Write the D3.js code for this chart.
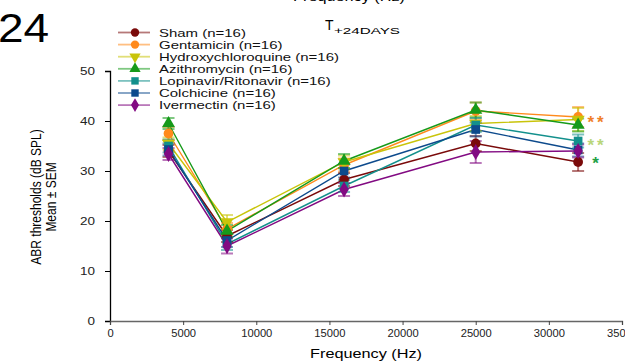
<!DOCTYPE html>
<html><head><meta charset="utf-8">
<script src="https://cdn.jsdelivr.net/npm/d3@7"></script>
<style>body{margin:0;background:#fff}svg{display:block;font-family:Arial,"Liberation Sans",sans-serif}</style>
</head><body><svg id="c" width="625" height="363"></svg>
<script>
const frequencies = [4000, 8000, 16000, 25000, 32000];
const seriesNames = ["Sham (n=16)","Gentamicin (n=16)","Hydroxychloroquine (n=16)","Azithromycin (n=16)","Lopinavir/Ritonavir (n=16)","Colchicine (n=16)","Ivermectin (n=16)"];
const shamValues = [34.0, 17.0, 28.3, 35.5, 31.8];
const gentamicinValues = [37.5, 18.4, 31.2, 42.0, 40.8];
const hydroxyValues = [35.5, 19.8, 31.8, 39.5, 40.3];
const azithroValues = [39.5, 18.0, 32.0, 42.2, 39.2];
const lopinavirValues = [35.0, 15.4, 27.0, 39.2, 36.0];
const colchicineValues = [34.3, 16.1, 30.0, 38.3, 34.2];
const ivermectinValues = [33.4, 15.0, 26.3, 33.8, 34.0];
const shamSem = [1.2, 1.2, 1.3, 1.5, 1.8];
const gentamicinSem = [1.3, 1.2, 1.3, 1.7, 2.0];
const hydroxySem = [1.2, 1.4, 1.3, 1.5, 2.3];
const azithroSem = [1.1, 1.2, 1.4, 1.5, 1.3];
const lopinavirSem = [1.3, 1.2, 1.2, 1.4, 1.3];
const colchicineSem = [1.2, 1.3, 1.3, 1.4, 1.3];
const ivermectinSem = [1.2, 1.5, 1.3, 2.2, 1.3];
const xTicks = [0, 5000, 10000, 15000, 20000, 25000, 30000, 35000];
const yTicks = [0, 10, 20, 30, 40, 50];
const significanceMarks = ["**", "**", "*"];
const significanceLevels = [40.2, 35.7, 32.0];
const significanceColors = ["#f0802a", "#b9d67a", "#22a045"];

const colors = ["#7a0a0a","#ff8a1c","#c9c40a","#169a1a","#13908c","#0d4a8c","#820a82"];
const shapes = [d3.symbolCircle, d3.symbolCircle, "down", d3.symbolTriangle, d3.symbolSquare, d3.symbolSquare, d3.symbolDiamond];
const allValues = [shamValues,gentamicinValues,hydroxyValues,azithroValues,lopinavirValues,colchicineValues,ivermectinValues];
const allSem = [shamSem,gentamicinSem,hydroxySem,azithroSem,lopinavirSem,colchicineSem,ivermectinSem];
const series = seriesNames.map((n,i)=>({name:n,color:colors[i],shape:shapes[i],
  pts:frequencies.map((f,j)=>({f,v:allValues[i][j],e:allSem[i][j]}))}));

const svg = d3.select("#c");
const x = d3.scaleLinear().domain([0,35000]).range([110,622]);
const y = d3.scaleLinear().domain([0,50]).range([321,71]);

function sym(shape, size){
  return d3.symbol(shape==="down"?d3.symbolTriangle:shape, size)();
}
function addMarker(g, s, cx, cy, size){
  g.append("path").attr("d", sym(s.shape,size))
   .attr("transform", `translate(${cx},${cy})` + (s.shape==="down"?" rotate(180)":""))
   .attr("fill", s.color);
}
function stretchedText(px, py, sx, size, str, anchor){
  return svg.append("text").attr("transform",`translate(${px},${py}) scale(${sx},1)`)
    .attr("font-size",size).attr("text-anchor",anchor||"start").text(str);
}

// top cut-off text from panel above
stretchedText(349, 1, 1.25, 13, "Frequency (Hz)", "middle");
// panel label
stretchedText(-2, 42, 1.15, 40, "24");
// time title
svg.append("text").attr("x",325).attr("y",29.5).attr("font-size",14).text("T");
svg.append("text").attr("x",334).attr("y",33.5).attr("font-size",9)
  .attr("textLength",66).attr("lengthAdjust","spacingAndGlyphs").text("+24DAYS");

// axes
const yAxis = svg.append("g").attr("transform","translate(110,0)")
  .call(d3.axisLeft(y).tickValues(yTicks).tickSize(5).tickPadding(4));
yAxis.selectAll("text").attr("font-size",10).attr("fill","#222")
  .attr("transform","translate(-15,0) scale(1.35,1)").attr("x",0);
yAxis.select(".domain").attr("stroke","#000").attr("stroke-width",1.3);
yAxis.selectAll(".tick line").attr("stroke","#000");

const xAxis = svg.append("g").attr("transform","translate(0,321)")
  .call(d3.axisBottom(x).tickValues(xTicks).tickFormat(d3.format("d")).tickSize(4).tickPadding(5));
xAxis.selectAll("text").attr("font-size",10).attr("fill","#222").attr("transform","scale(1.12,1)");
xAxis.select(".domain").attr("stroke","#666").attr("stroke-width",1.3);
xAxis.selectAll(".tick line").attr("stroke","#444");

stretchedText(366, 358, 1.25, 13, "Frequency (Hz)", "middle");
const yl = svg.append("text").attr("transform","translate(41,197) scale(1.25,1) rotate(-90)").attr("text-anchor","middle").attr("font-size",12);
yl.append("tspan").attr("x",0).attr("dy",0).text("ABR thresholds (dB SPL)");
yl.append("tspan").attr("x",0).attr("dy",12).text("Mean ± SEM");

// lines, error bars, markers
const line = d3.line().x(d=>x(d.f)).y(d=>y(d.v));
const plot = svg.append("g");
series.forEach(s=>{
  plot.append("path").datum(s.pts).attr("d",line).attr("fill","none").attr("stroke",s.color).attr("stroke-width",1.4);
});
series.forEach(s=>{
  const g = plot.append("g").attr("stroke",s.color).attr("stroke-opacity",0.55).attr("stroke-width",2);
  s.pts.forEach(p=>{
    const cx = x(p.f);
    g.append("line").attr("x1",cx).attr("x2",cx).attr("y1",y(p.v-p.e)).attr("y2",y(p.v+p.e));
    g.append("line").attr("x1",cx-6).attr("x2",cx+6).attr("y1",y(p.v+p.e)).attr("y2",y(p.v+p.e));
    g.append("line").attr("x1",cx-6).attr("x2",cx+6).attr("y1",y(p.v-p.e)).attr("y2",y(p.v-p.e));
  });
});
series.forEach(s=>{
  const g = plot.append("g");
  s.pts.forEach(p=>addMarker(g, s, x(p.f), y(p.v), 75));
});

// significance stars
significanceMarks.forEach((m,i)=>{
  svg.append("text").attr("x",597).attr("y",y(significanceLevels[i])+8).attr("text-anchor","middle")
    .attr("font-size",17).attr("font-weight","bold").attr("letter-spacing",3)
    .attr("fill",significanceColors[i]).text(m);
});

// legend
const lg = svg.append("g");
series.forEach((s,i)=>{
  const ly = 32.5 + i*12.1;
  lg.append("line").attr("x1",118).attr("x2",150).attr("y1",ly).attr("y2",ly).attr("stroke",s.color).attr("stroke-opacity",0.55).attr("stroke-width",1.8);
  addMarker(lg, s, 135, ly, 55);
  lg.append("text").attr("transform",`translate(159,${ly+4}) scale(1.36,1)`).attr("font-size",11).attr("fill","#111").text(s.name);
});
</script></body></html>
